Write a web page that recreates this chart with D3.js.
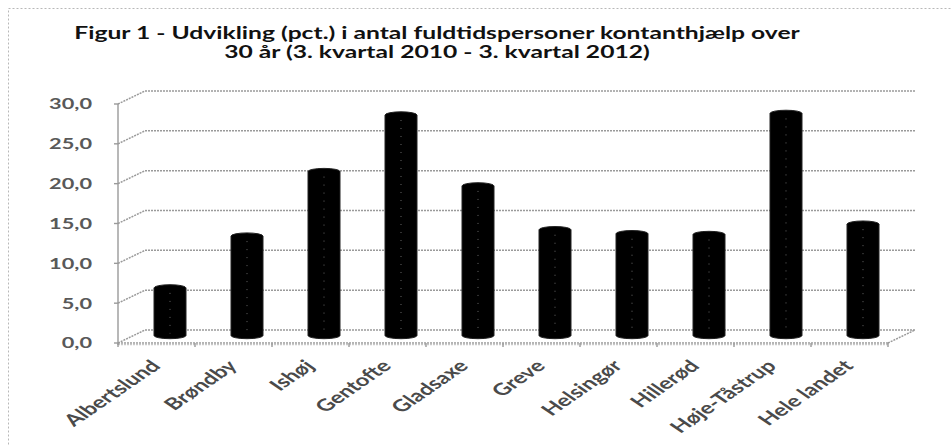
<!DOCTYPE html>
<html><head><meta charset="utf-8">
<script src="https://cdn.jsdelivr.net/npm/d3@7"></script>
<style>html,body{margin:0;padding:0;background:#fff;}svg{display:block;}</style>
</head><body>
<script>
const categories = ["Albertslund","Brøndby","Ishøj","Gentofte","Gladsaxe","Greve","Helsingør","Hillerød","Høje-Tåstrup","Hele landet"];
const values = [6.1, 12.6, 20.7, 27.8, 18.9, 13.4, 12.9, 12.8, 28.0, 14.1];
const yTicks = [0, 5, 10, 15, 20, 25, 30];
const titleLines = ["Figur 1 - Udvikling (pct.) i antal fuldtidspersoner kontanthjælp over", "30 år (3. kvartal 2010 - 3. kvartal 2012)"];

const W = 951, H = 445;
const SX = 1.45; // horizontal stretch of the original picture
const depthX = 27, depthY = 13;
const svg = d3.select("body").append("svg").attr("width", W).attr("height", H);

// dotted outer border
svg.append("rect").attr("x", 8.5).attr("y", 8.5).attr("width", 1000).attr("height", 1000)
  .attr("fill", "none").attr("stroke", "#b8b8b8").attr("stroke-dasharray", "2,2");

const x = d3.scaleBand().domain(categories).range([118, 888]).padding(0);
const y = d3.scaleLinear().domain([0, 30]).range([343, 104]);

const grid = svg.append("g").attr("fill", "none").attr("stroke", "#9a9a9a").attr("stroke-width", 1.5).attr("stroke-dasharray", "2,1");
yTicks.forEach(t => {
  const yf = y(t);
  grid.append("line").attr("x1", 118 + depthX).attr("x2", 888 + depthX).attr("y1", yf - depthY).attr("y2", yf - depthY);
  grid.append("line").attr("x1", 118).attr("x2", 118 + depthX).attr("y1", yf).attr("y2", yf - depthY);
});
// floor
grid.append("line").attr("x1", 118).attr("x2", 888).attr("y1", y(0)).attr("y2", y(0));
grid.append("line").attr("x1", 118).attr("x2", 888).attr("y1", y(0) + 1.5).attr("y2", y(0) + 1.5).attr("stroke-dasharray", null).attr("stroke", "#c8c8c8");
grid.append("line").attr("x1", 888).attr("x2", 888 + depthX).attr("y1", y(0)).attr("y2", y(0) - depthY);

// front vertical axis with ticks
const ax = svg.append("g").attr("stroke", "#9a9a9a").attr("stroke-width", 1.4);
ax.append("line").attr("x1", 118).attr("x2", 118).attr("y1", y(30)).attr("y2", y(0) + 2);
yTicks.forEach(t => ax.append("line").attr("x1", 114).attr("x2", 118).attr("y1", y(t)).attr("y2", y(t)));
d3.range(categories.length + 1).forEach(i => {
  const xx = 118 + i * x.bandwidth();
  ax.append("line").attr("x1", xx).attr("x2", xx).attr("y1", y(0)).attr("y2", y(0) + 4);
});

// y labels
svg.append("g").selectAll("text").data(yTicks).join("text")
  .attr("transform", d => `translate(92,${y(d)}) scale(${SX},1)`)
  .attr("text-anchor", "end").attr("dy", "0.36em")
  .attr("font-family", "Lato, 'Open Sans', sans-serif").attr("font-size", 15)
  .attr("fill", "#595959").attr("font-weight", "bold")
  .text(d => d.toFixed(1).replace(".", ","));

// cylinders at mid depth
const bw = 32, ry = 3.2;
const bars = svg.append("g");
categories.forEach((c, i) => {
  const cx = x(c) + x.bandwidth() / 2 + depthX / 2;
  const yb = y(0) - depthY / 2 - 1;
  const yt = y(values[i]) - depthY / 2;
  const x0 = cx - bw / 2, x1 = cx + bw / 2;
  bars.append("path")
    .attr("d", `M${x0},${yt} A${bw/2},${ry} 0 0 1 ${x1},${yt} L${x1},${yb} A${bw/2},${ry} 0 0 1 ${x0},${yb} Z`)
    .attr("fill", "#000").attr("stroke", "#222").attr("stroke-width", 1);
  bars.append("line").attr("x1", cx).attr("x2", cx).attr("y1", yt + 5).attr("y2", yb - 2)
    .attr("stroke", "#666").attr("stroke-width", 1).attr("stroke-dasharray", "1,7");
});

// category labels
svg.append("g").selectAll("text").data(categories).join("text")
  .attr("transform", d => `translate(${x(d) + x.bandwidth() / 2 + 5},${367}) scale(${SX},1) rotate(-45)`)
  .attr("text-anchor", "end")
  .attr("font-family", "Lato, 'Open Sans', sans-serif").attr("font-size", 16.5)
  .attr("fill", "#4a4a4a").attr("font-weight", "bold")
  .text(d => d);

// title
svg.append("g").selectAll("text").data(titleLines).join("text")
  .attr("transform", (d, i) => `translate(437,${39 + i * 19}) scale(${SX},1)`)
  .attr("text-anchor", "middle")
  .attr("font-family", "Lato, 'Open Sans', sans-serif").attr("font-size", 17).attr("font-weight", "bold")
  .attr("fill", "#111")
  .text(d => d);
</script>
</body></html>
